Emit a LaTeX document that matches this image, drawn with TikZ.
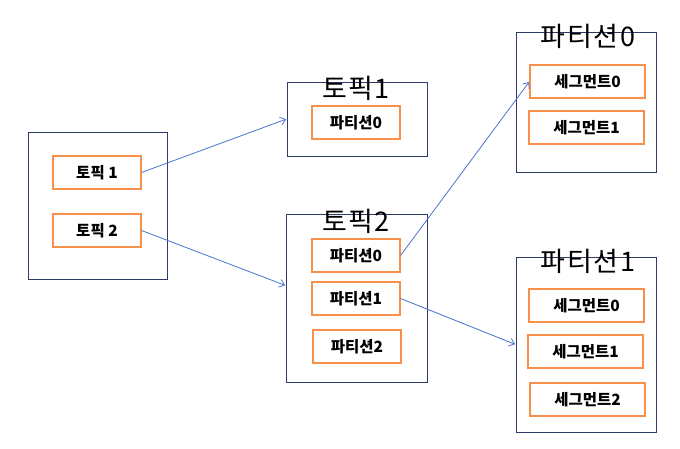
\documentclass[tikz,border=0pt]{standalone}
\usepackage{fontspec}
\newfontfamily\kr{Noto Sans CJK KR}
\newfontfamily\krtitle[LetterSpace=6]{Noto Sans CJK KR}
\usepackage{tikz}
\usetikzlibrary{arrows,arrows.meta,positioning}
\definecolor{boxnavy}{HTML}{2F3A68}
\definecolor{itemorange}{HTML}{F7904A}
\definecolor{linkblue}{HTML}{4A74D0}

\begin{document}
\begin{tikzpicture}[x=1pt, y=-1pt, ->, >={Straight Barb[length=5pt,width=8pt]}, shorten >=0.5pt,
  every edge/.append style={draw=linkblue, line width=0.8pt},
  group/.style={draw=boxnavy, line width=0.9pt, minimum width=140pt, inner sep=0pt},
  item/.style={draw=itemorange, line width=1.1pt, minimum width=88pt, minimum height=33pt,
               inner sep=0pt, font=\kr\bfseries\fontsize{15.5}{17}\selectfont},
  seg/.style={item, minimum width=115pt},
  title/.style={font=\krtitle\fontsize{27}{29}\selectfont, inner sep=0pt}]
				\useasboundingbox (0,0) rectangle (680,449);

				% left: topics
				\node[group, minimum width=139pt, minimum height=147pt] (L) at (97.5,205.5) {};
				\node[item] (T1) at (97,172.5) {토픽 1};
				\node[item] (T2) at (97,230.5) {토픽 2};

				% topic 1
				\node[group, minimum height=74pt] (A) at (357,119) {};
				\node[title] (At) at (356,88) {토픽1};
				\node[item] (A0) at (356,122.5) {파티션0};

				% topic 2
				\node[group, minimum width=141pt, minimum height=168pt] (B) at (356.5,298) {};
				\node[title] (Bt) at (356,221) {토픽2};
				\node[item] (B0) at (356,255.5) {파티션0};
				\node[item] (B1) at (356,298.5) {파티션1};
				\node[item] (B2) at (357,346.5) {파티션2};

				% partition 0
				\node[group, minimum height=140pt] (P) at (586,102) {};
				\node[title] (Pt) at (588,36) {파티션0};
				\node[seg] (P0) at (587.5,81.5) {세그먼트0};
				\node[seg] (P1) at (586.5,127.5) {세그먼트1};

				% partition 1
				\node[group, minimum height=175pt] (Q) at (586,344.5) {};
				\node[title] (Qt) at (588,261) {파티션1};
				\node[seg] (Q0) at (586.5,305.5) {세그먼트0};
				\node[seg] (Q1) at (585.5,351.5) {세그먼트1};
				\node[seg] (Q2) at (587.5,399.5) {세그먼트2};

				\path	(T1.east) edge (A.west)
						(T2.east) edge (B.170)
						(B0.east) edge (P0.west)
						(B1.east) edge (Q.west);
			\end{tikzpicture}
\end{document}
